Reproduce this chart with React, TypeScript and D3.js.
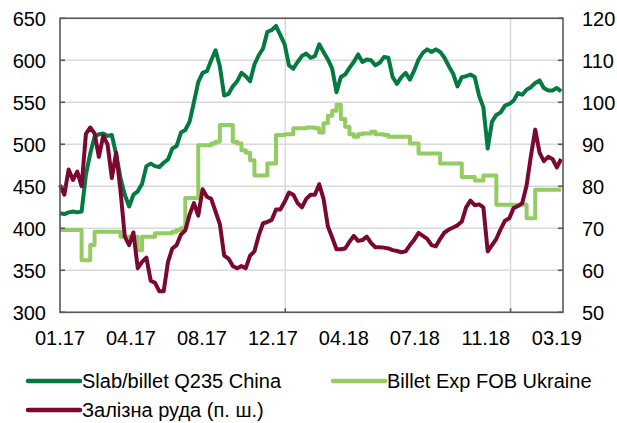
import React from "react";
import * as d3 from "d3";

// ---- Data (weekly observations, starting 2017-01-01) ----
const slabChina: number[] = [
  418, 417, 419, 420, 419, 420, 464, 489, 509, 512,
  513, 510, 511, 488, 460, 440, 426, 440, 444, 453,
  474, 477, 474, 473, 478, 482, 495, 498, 514, 517,
  527, 550, 574, 585, 587, 600, 612, 593, 558, 560,
  569, 575, 585, 581, 575, 595, 606, 614, 634, 636,
  641, 630, 619, 594, 590, 598, 605, 608, 603, 605,
  619, 610, 601, 590, 562, 580, 583, 591, 598, 607,
  598, 601, 600, 594, 597, 604, 603, 580, 572, 580,
  585, 577, 588, 601, 609, 613, 610, 613, 610, 603,
  593, 584, 569, 580, 581, 583, 580, 558, 544, 495,
  527, 535, 538, 546, 548, 552, 561, 559, 565, 568,
  573, 576, 567, 564, 564, 567, 563,
];

const billetUkraine: number[] = [
  398, 398, 398, 398, 398, 362, 362, 380, 396, 396,
  396, 396, 396, 396, 390, 390, 390, 390, 374, 390,
  390, 390, 394, 394, 394, 394, 396, 398, 400, 436,
  436, 436, 499, 499, 499, 501, 503, 523, 523, 523,
  503, 501, 493, 490, 481, 463, 463, 463, 477, 477,
  511, 511, 512, 512, 519, 519, 519, 520, 520, 519,
  514, 525, 534, 540, 547, 530, 521, 512, 509, 512,
  513, 513, 515, 512, 512, 511, 509, 509, 509, 509,
  509, 501, 501, 489, 489, 489, 489, 489, 477, 477,
  477, 477, 477, 461, 461, 461, 457, 457, 463, 463,
  463, 428, 428, 428, 428, 428, 428, 428, 412, 412,
  446, 446, 446, 446, 446, 446, 446,
];

const ironOre: number[] = [
  80.3, 78, 84, 81.5, 83.5, 80, 92.5, 94, 92.6, 87,
  92, 90, 82, 88, 79, 68, 66, 69, 60.5, 62,
  63, 57.5, 57, 55, 55, 62, 65.2, 66, 68.5, 69.5,
  73.3, 76, 73, 79.3, 77.5, 77, 74, 71, 63.5, 62.8,
  61, 60.5, 61, 60.5, 63.5, 64.5, 68.3, 71.2, 71.5, 72,
  74.5, 74.5, 76.3, 78.5, 78, 76, 75, 77, 78, 78,
  80.5, 77, 70.5, 67.8, 65, 65, 65.2, 66.8, 68.2, 67,
  67.2, 68, 66.5, 65.5, 65.5, 65.4, 65.2, 64.8, 64.6, 64.3,
  64.5, 66, 67.3, 68.9, 68.2, 67.5, 66, 65.7, 67.5, 69,
  69.7, 70.2, 70.7, 71.6, 75, 76.6, 75.5, 75.7, 75, 64.5,
  66, 67.5, 69.8, 71.8, 72.4, 74.8, 75.3, 76, 80.2, 87.2,
  93.5, 88, 86, 87, 86.5, 84.5, 86.5,
];

const leftTicks: number[] = [300, 350, 400, 450, 500, 550, 600, 650];
const rightTicks: number[] = [50, 60, 70, 80, 90, 100, 110, 120];
const xTickDates: string[] = [
  "2017-01-01", "2017-04-26", "2017-08-19", "2017-12-12",
  "2018-04-06", "2018-07-30", "2018-11-22", "2019-03-17",
];
const xGridDates: string[] = ["2018-01-01", "2019-01-01"];
const seriesNames: string[] = [
  "Slab/billet Q235 China",
  "Billet Exp FOB Ukraine",
  "Залізна руда (п. ш.)",
];

const START = "2017-01-01";
const END = "2019-03-27";

const parse = (s: string) => {
  const [y, m, d] = s.split("-").map(Number);
  return new Date(y, m - 1, d);
};

const COLORS = ["#037A3F", "#92CC62", "#7A0831"];
const FONT = "'Liberation Sans', Arial, sans-serif";
const FS = 20;

export default function App() {
  const W = 617;
  const H = 423;
  const left = 60, right = 563, top = 18.3, bottom = 312.3;

  const start = parse(START);
  const dates = slabChina.map((_, i) => d3.timeDay.offset(start, 7 * i));

  const x = d3.scaleTime().domain([start, parse(END)]).range([left, right]);
  const yL = d3.scaleLinear().domain([300, 650]).range([bottom, top]);
  const yR = d3.scaleLinear().domain([50, 120]).range([bottom, top]);

  const lineL = d3
    .line<number>()
    .x((_, i) => x(dates[i]))
    .y((v) => yL(v));
  const stepL = d3
    .line<number>()
    .x((_, i) => x(dates[i]))
    .y((v) => yL(v))
    .curve(d3.curveStepAfter);
  const lineR = d3
    .line<number>()
    .x((_, i) => x(dates[i]))
    .y((v) => yR(v));

  const fmt = d3.timeFormat("%m.%y");
  const axisColor = "#595959";
  const gridColor = "#D9D9D9";

  return (
    <svg
      width={W}
      height={H}
      style={{ position: "absolute", left: 0, top: 0, background: "#fff" }}
      fontFamily={FONT}
    >
      <rect x={0} y={0} width={W} height={H} fill="#fff" />
      {/* horizontal gridlines */}
      {leftTicks.map((t) => (
        <line
          key={"hg" + t}
          x1={left}
          x2={right}
          y1={yL(t)}
          y2={yL(t)}
          stroke={gridColor}
          strokeWidth={1.5}
        />
      ))}
      {/* vertical gridlines */}
      {xGridDates.map((d) => (
        <line
          key={"vg" + d}
          x1={x(parse(d))}
          x2={x(parse(d))}
          y1={top}
          y2={bottom}
          stroke={gridColor}
          strokeWidth={1.5}
        />
      ))}
      {/* series */}
      <path d={lineL(slabChina) || ""} fill="none" stroke={COLORS[0]} strokeWidth={4} strokeLinejoin="round" />
      <path d={stepL(billetUkraine) || ""} fill="none" stroke={COLORS[1]} strokeWidth={4} strokeLinejoin="round" />
      <path d={lineR(ironOre) || ""} fill="none" stroke={COLORS[2]} strokeWidth={4} strokeLinejoin="round" />

      {/* frame */}
      <rect
        x={left}
        y={top}
        width={right - left}
        height={bottom - top}
        fill="none"
        stroke={axisColor}
        strokeWidth={1.6}
      />
      {/* ticks */}
      {leftTicks.map((t) => (
        <line key={"lt" + t} x1={left} x2={left + 5} y1={yL(t)} y2={yL(t)} stroke={axisColor} strokeWidth={1.6} />
      ))}
      {rightTicks.map((t) => (
        <line key={"rt" + t} x1={right - 5} x2={right} y1={yR(t)} y2={yR(t)} stroke={axisColor} strokeWidth={1.6} />
      ))}
      {xGridDates.map((d) => (
        <line
          key={"bt" + d}
          x1={x(parse(d))}
          x2={x(parse(d))}
          y1={bottom - 4}
          y2={bottom}
          stroke={axisColor}
          strokeWidth={1.6}
        />
      ))}
      {/* tick labels */}
      {leftTicks.map((t) => (
        <text key={"ll" + t} x={46} y={yL(t)} dy="0.36em" textAnchor="end" fontSize={FS} fill="#000">
          {t}
        </text>
      ))}
      {rightTicks.map((t) => (
        <text key={"rl" + t} x={582} y={yR(t)} dy="0.36em" textAnchor="start" fontSize={FS} fill="#000">
          {t}
        </text>
      ))}
      {xTickDates.map((d) => (
        <text key={"xl" + d} x={x(parse(d))} y={345} textAnchor="middle" fontSize={FS} fill="#000">
          {fmt(parse(d))}
        </text>
      ))}
      {/* legend */}
      {[
        { lx: 28, ly: 381 },
        { lx: 333, ly: 381 },
        { lx: 28, ly: 410 },
      ].map((p, i) => (
        <g key={"lg" + i}>
          <line x1={p.lx} x2={p.lx + 52} y1={p.ly} y2={p.ly} stroke={COLORS[i]} strokeWidth={4.5} strokeLinecap="round" />
          <text x={p.lx + 54} y={p.ly} dy="0.36em" fontSize={FS} fill="#000">
            {seriesNames[i]}
          </text>
        </g>
      ))}
    </svg>
  );
}
